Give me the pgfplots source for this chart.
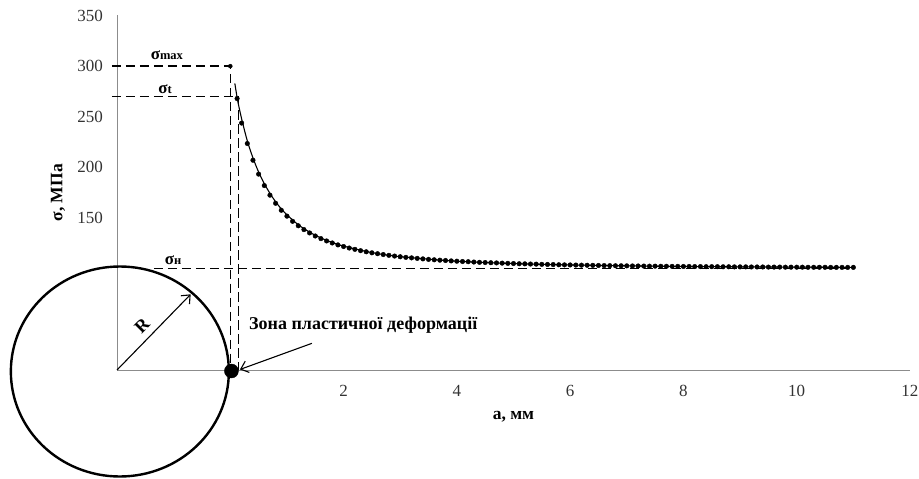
\documentclass[border=0pt]{standalone}
\usepackage{fontspec}
\setmainfont{Liberation Serif}
\usepackage{pgfplots}
\pgfplotsset{compat=1.18}
\usetikzlibrary{arrows.meta}
\begin{document}
\begin{tikzpicture}
\begin{axis}[
  scale only axis,
  width=793pt, height=354.5pt,
  xmin=-2, xmax=12, ymin=0, ymax=350,
  axis x line=bottom, axis y line=left,
  axis line style={draw=black!45, line width=0.9pt, -},
  xtick={2,4,...,12}, ytick={150,200,...,350},
  major tick length=0pt,
  /pgf/number format/assume math mode=true,
  tick label style={font=\fontsize{17}{19}\selectfont, text=black!80},
  xticklabel style={anchor=center, yshift=-21pt},
  yticklabel style={anchor=east, inner sep=0pt, xshift=-14pt},
  xlabel={\textbf{a, мм}},
  ylabel={\textbf{σ, МПа}},
  label style={font=\fontsize{17.5}{19}\selectfont},
  xlabel style={at={(axis description cs:0.5,-0.1326)}, anchor=center},
  ylabel style={at={(axis description cs:-0.0744,0.5)}, anchor=center},
  clip=false,
]
% bounding box corners
\coordinate (bbSW) at (axis cs:-4.066,-107.6);
\coordinate (bbNE) at (axis cs:12.159,365.3);

% circle (hole)
\draw[black, line width=2.4pt] (axis cs:-1.95,-1.5) ellipse [x radius=109pt, y radius=105pt];

% reference dashed lines
\addplot[black, line width=1.4pt, dash pattern=on 9.5pt off 4.5pt] coordinates {(-2.09,300) (0,300) (0,0)};
\addplot[black, line width=1.4pt, dash pattern=on 9.5pt off 4.5pt] coordinates {(-2.09,270) (0.14,270) (0.14,0)};
\addplot[black, line width=1.4pt, dash pattern=on 9.5pt off 4.5pt] coordinates {(-1.35,100) (10.95,100)};

% trend line
\addplot[black, line width=1.1pt, smooth] coordinates {
(0.08,283)(0.13,266)(0.2,248)(0.3,226.3)(0.4,209.4)(0.5,195.4)(0.6,184)(0.7,174.4)(0.8,166.1)(0.9,159.1)(1.0,153.2)(1.2,143.4)(1.4,136.1)(1.6,130.3)(1.8,125.9)(2.0,122.3)(2.5,115.9)(3.0,111.9)(4.0,107.4)(5,105.1)(6,103.7)(8,102.2)(11,101.3)
};

% data points
\addplot[only marks, mark=*, mark size=2.3pt, black] coordinates {
(0.12,268)(0.2,243.8)(0.3,223.6)(0.4,207.1)(0.5,193.4)(0.6,182.1)(0.7,172.6)(0.8,164.6)(0.9,157.7)(1.0,151.9)
(1.1,146.8)(1.2,142.4)(1.3,138.6)(1.4,135.3)(1.5,132.3)(1.6,129.7)(1.7,127.4)(1.8,125.4)(1.9,123.5)(2.0,121.9)
(2.1,120.4)(2.2,119.1)(2.3,117.8)(2.4,116.7)(2.5,115.7)(2.6,114.8)(2.7,114.0)(2.8,113.2)(2.9,112.5)(3.0,111.8)
(3.1,111.2)(3.2,110.7)(3.3,110.2)(3.4,109.7)(3.5,109.2)(3.6,108.8)(3.7,108.4)(3.8,108.1)(3.9,107.7)(4.0,107.4)
(4.1,107.1)(4.2,106.9)(4.3,106.6)(4.4,106.3)(4.5,106.1)(4.6,105.9)(4.7,105.7)(4.8,105.5)(4.9,105.3)(5.0,105.1)
(5.1,104.9)(5.2,104.8)(5.3,104.6)(5.4,104.5)(5.5,104.3)(5.6,104.2)(5.7,104.1)(5.8,103.9)(5.9,103.8)(6.0,103.7)
(6.1,103.6)(6.2,103.5)(6.3,103.4)(6.4,103.3)(6.5,103.2)(6.6,103.1)(6.7,103.0)(6.8,102.9)(6.9,102.9)(7.0,102.8)
(7.1,102.7)(7.2,102.7)(7.3,102.6)(7.4,102.5)(7.5,102.5)(7.6,102.4)(7.7,102.4)(7.8,102.3)(7.9,102.3)(8.0,102.2)
(8.1,102.2)(8.2,102.1)(8.3,102.1)(8.4,102.0)(8.5,102.0)(8.6,102.0)(8.7,101.9)(8.8,101.9)(8.9,101.8)(9.0,101.8)
(9.1,101.8)(9.2,101.7)(9.3,101.7)(9.4,101.7)(9.5,101.6)(9.6,101.6)(9.7,101.6)(9.8,101.5)(9.9,101.5)(10.0,101.5)
(10.1,101.5)(10.2,101.4)(10.3,101.4)(10.4,101.4)(10.5,101.4)(10.6,101.3)(10.7,101.3)(10.8,101.3)(10.9,101.3)(11.0,101.3)
};

% sigma max point
\addplot[only marks, mark=*, mark size=2pt, black] coordinates {(0,300)};
% plastic zone point
\addplot[only marks, mark=*, mark size=7pt, black] coordinates {(0.02,-1)};

% R arrow
\draw[black, line width=1.1pt, -{Straight Barb[length=7pt,width=12pt]}] (axis cs:-2,0) -- (axis cs:-0.70,74.7);
\node[rotate=45, font=\fontsize{18}{20}\selectfont\bfseries] at (axis cs:-1.56,43.4) {R};

% plastic zone arrow and text
\draw[black, line width=1.1pt, -{Straight Barb[length=7pt,width=12pt]}] (axis cs:1.44,26.3) -- (axis cs:0.17,0.5);
\node[anchor=west, inner sep=0pt, font=\fontsize{18}{20}\selectfont\bfseries] at (axis cs:0.33,44.4) {Зона пластичної деформації};

% sigma labels
\node[font=\fontsize{17}{19}\selectfont\bfseries] at (axis cs:-1.12,311) {σ{\fontsize{12.5}{14}\selectfont max}};
\node[font=\fontsize{17}{19}\selectfont\bfseries] at (axis cs:-1.15,277.4) {σ{\fontsize{12.5}{14}\selectfont t}};
\node[font=\fontsize{17}{19}\selectfont\bfseries] at (axis cs:-1.01,108.6) {σ{\fontsize{12.5}{14}\selectfont н}};
\end{axis}
\pgfresetboundingbox
\path (bbSW) rectangle (bbNE);
\end{tikzpicture}
\end{document}
